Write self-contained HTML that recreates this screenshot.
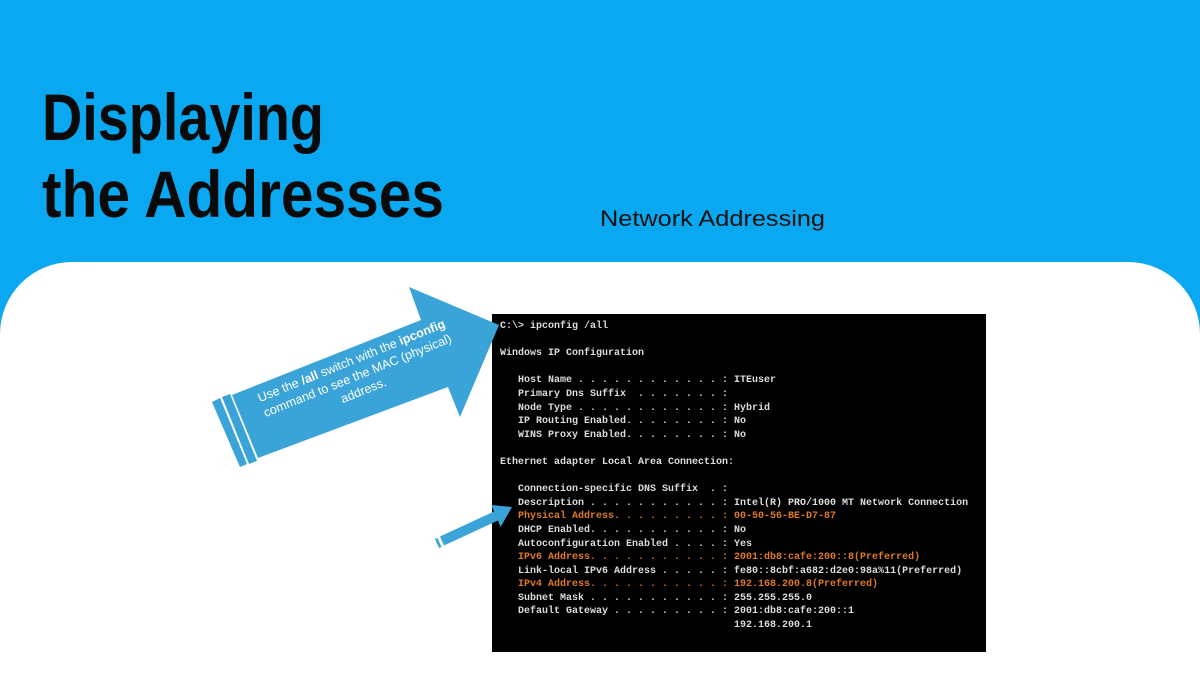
<!DOCTYPE html>
<html><head><meta charset="utf-8"><style>
body{margin:0;width:1200px;height:675px;overflow:hidden;background:#0aa8f0;position:relative;font-family:"Liberation Sans",sans-serif}
.white{position:absolute;left:0;top:262px;width:1200px;height:413px;background:#fff;border-radius:72px 72px 0 0}
.term{position:absolute;left:492px;top:314px;width:494px;height:338px;background:#000}
pre{margin:0;position:absolute;left:500px;top:320px;font:bold 10px/13.6px "Liberation Mono",monospace;color:#dcdcdc}
.o{color:#e07a22}
svg{position:absolute;left:0;top:0}
</style></head><body>
<div class="white"></div>
<div class="term"></div>
<pre>C:\&gt; ipconfig /all

Windows IP Configuration

   Host Name . . . . . . . . . . . . : ITEuser
   Primary Dns Suffix  . . . . . . . :
   Node Type . . . . . . . . . . . . : Hybrid
   IP Routing Enabled. . . . . . . . : No
   WINS Proxy Enabled. . . . . . . . : No

Ethernet adapter Local Area Connection:

   Connection-specific DNS Suffix  . :
   Description . . . . . . . . . . . : Intel(R) PRO/1000 MT Network Connection
<span class="o">   Physical Address. . . . . . . . . : 00-50-56-BE-D7-87</span>
   DHCP Enabled. . . . . . . . . . . : No
   Autoconfiguration Enabled . . . . : Yes
<span class="o">   IPv6 Address. . . . . . . . . . . : 2001:db8:cafe:200::8(Preferred)</span>
   Link-local IPv6 Address . . . . . : fe80::8cbf:a682:d2e0:98a%11(Preferred)
<span class="o">   IPv4 Address. . . . . . . . . . . : 192.168.200.8(Preferred)</span>
   Subnet Mask . . . . . . . . . . . : 255.255.255.0
   Default Gateway . . . . . . . . . : 2001:db8:cafe:200::1
                                       192.168.200.1</pre>
<svg width="1200" height="675">
<text x="42" y="140" font-family="Liberation Sans" font-weight="bold" font-size="66" fill="#0a0a0a" textLength="282" lengthAdjust="spacingAndGlyphs">Displaying</text>
<text x="42" y="217" font-family="Liberation Sans" font-weight="bold" font-size="66" fill="#0a0a0a" textLength="402" lengthAdjust="spacingAndGlyphs">the Addresses</text>
<text x="600" y="226" font-family="Liberation Sans" font-size="22" fill="#111" textLength="225" lengthAdjust="spacingAndGlyphs">Network Addressing</text>
<g fill="#3aa3d8">
<polygon points="232,395 421,320 409,287 499,325 460,417 448,387 258,458"/>
<polygon points="212,402 220,398 247,464 240,467"/>
<polygon points="222,397 230,394 257,461 249,464"/>
<polygon points="440,536.5 494,511.5 491.5,505 512,507 500.5,527 498,520.5 444,545.5"/>
<polygon points="435,539 437.5,538 441.5,547 439,548"/>
</g>
<g transform="translate(356,372) rotate(-22)" font-family="Liberation Sans" font-size="12.5" fill="#fff" text-anchor="middle">
<text x="0" y="-8">Use the <tspan font-weight="bold">/all</tspan> switch with the <tspan font-weight="bold">ipconfig</tspan></text>
<text x="0" y="8">command to see the MAC (physical)</text>
<text x="0" y="24">address.</text>
</g>
</svg>
</body></html>
